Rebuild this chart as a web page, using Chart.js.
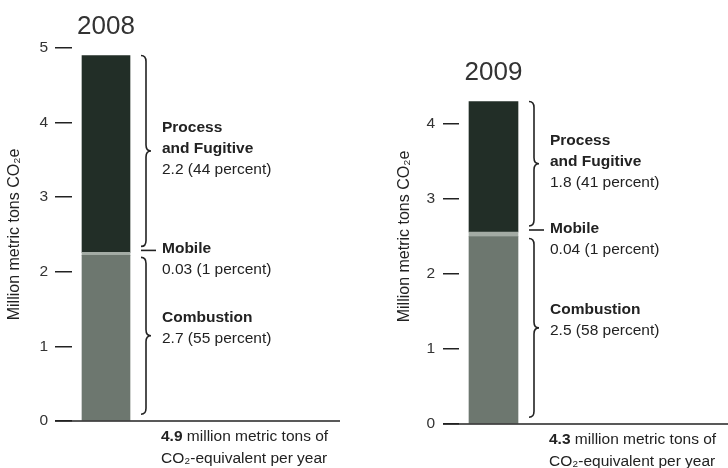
<!DOCTYPE html>
<html>
<head>
<meta charset="utf-8">
<script src="https://cdn.jsdelivr.net/npm/chart.js@4.4.1/dist/chart.umd.min.js"></script>
<style>
  html, body { margin: 0; padding: 0; background: #fff; }
  #wrap { position: relative; width: 728px; height: 468px; }
  .panel { position: absolute; top: 0; width: 364px; height: 468px; }
</style>
</head>
<body>
<div id="wrap">
  <div class="panel" style="left:0"><canvas id="c2008" width="364" height="468"></canvas></div>
  <div class="panel" style="left:364px"><canvas id="c2009" width="364" height="468"></canvas></div>
</div>
<script>
// values (million metric tons CO2e)
const years = ['2008', '2009'];
const combustion = [2.22, 2.50];
const mobile = [0.04, 0.06];
const processFugitive = [2.64, 1.74];
const yTicks = [[0, 1, 2, 3, 4, 5], [0, 1, 2, 3, 4]];

// annotation texts
const processText = ['2.2 (44 percent)', '1.8 (41 percent)'];
const mobileText = ['0.03 (1 percent)', '0.04 (1 percent)'];
const combustionText = ['2.7 (55 percent)', '2.5 (58 percent)'];
const totals = ['4.9', '4.3'];

const FONT = '"Liberation Sans", Arial, Helvetica, sans-serif';
const INK = '#222';

// per panel layout
const panels = [
  { id: 'c2008', pad: { left: 5, right: 224, top: 48, bottom: 47 }, axisW: 67, tickLen: 17, tickPad: 7, barW: 48, lineFrom: 55, lineTo: 340 },
  { id: 'c2009', pad: { left: 31, right: 200, top: 49, bottom: 44 }, axisW: 64, tickLen: 16, tickPad: 8, barW: 49, lineFrom: 79, lineTo: 364 }
];

function drawBrace(ctx, x, y1, y2, w) {
  const ym = (y1 + y2) / 2;
  const r = 6;
  const xm = x + w / 2;
  ctx.beginPath();
  ctx.moveTo(x, y1);
  ctx.quadraticCurveTo(xm, y1, xm, y1 + r);
  ctx.lineTo(xm, ym - r);
  ctx.quadraticCurveTo(xm, ym, x + w, ym);
  ctx.quadraticCurveTo(xm, ym, xm, ym + r);
  ctx.lineTo(xm, y2 - r);
  ctx.quadraticCurveTo(xm, y2, x, y2);
  ctx.stroke();
}

function makeAnnotations(i, cfg) {
  return {
    id: 'annotations' + i,
    afterDatasetsDraw(chart) {
      const ctx = chart.ctx;
      const y = chart.scales.y;
      const comb = chart.getDatasetMeta(0).data[0];
      const proc = chart.getDatasetMeta(2).data[0];
      const zero = y.getPixelForValue(0);
      const barRight = comb.x + comb.width / 2;
      const bx = barRight + 11;
      const tx = bx + 21;
      const lh = 21;

      ctx.save();
      // baseline
      ctx.strokeStyle = INK;
      ctx.lineWidth = 1.5;
      ctx.beginPath();
      ctx.moveTo(cfg.lineFrom, zero);
      ctx.lineTo(cfg.lineTo, zero);
      ctx.stroke();

      // braces
      ctx.lineWidth = 1.6;
      const pTop = proc.y, pBot = proc.base - 6;
      drawBrace(ctx, bx, pTop, pBot, 10);
      const my = proc.base - 2;
      ctx.beginPath();
      ctx.moveTo(bx, my);
      ctx.lineTo(bx + 15, my);
      ctx.stroke();
      const cTop = comb.y + 2, cBot = comb.base - 6;
      drawBrace(ctx, bx, cTop, cBot, 10);

      // year title
      ctx.fillStyle = '#333';
      ctx.textAlign = 'center';
      ctx.textBaseline = 'middle';
      ctx.font = '26px ' + FONT;
      ctx.fillText(years[i], comb.x, proc.y - 29);

      // labels
      ctx.textAlign = 'left';
      ctx.fillStyle = INK;
      const bold = 'bold 15.5px ' + FONT;
      const reg = '15.5px ' + FONT;
      const pc = (pTop + pBot) / 2 - 2;
      ctx.font = bold;
      ctx.fillText('Process', tx, pc - lh);
      ctx.fillText('and Fugitive', tx, pc);
      ctx.font = reg;
      ctx.fillText(processText[i], tx, pc + lh);

      ctx.font = bold;
      ctx.fillText('Mobile', tx, my - 1.5);
      ctx.font = reg;
      ctx.fillText(mobileText[i], tx, my - 1.5 + lh);

      const cc = (cTop + cBot) / 2 - 8;
      ctx.font = bold;
      ctx.fillText('Combustion', tx, cc - lh / 2);
      ctx.font = reg;
      ctx.fillText(combustionText[i], tx, cc + lh / 2);

      // total
      const ty = zero + 16;
      ctx.font = bold;
      ctx.fillText(totals[i], tx - 1, ty);
      const w = ctx.measureText(totals[i]).width;
      ctx.font = reg;
      ctx.fillText(' million metric tons of', tx - 1 + w, ty);
      ctx.fillText('CO\u2082-equivalent per year', tx - 1, ty + 22);
      ctx.restore();
    }
  };
}

panels.forEach((cfg, i) => {
  const ticks = yTicks[i];
  new Chart(document.getElementById(cfg.id), {
    type: 'bar',
    data: {
      labels: [years[i]],
      datasets: [
        { label: 'Combustion', data: [combustion[i]], backgroundColor: '#6d776f' },
        { label: 'Mobile', data: [mobile[i]], backgroundColor: '#a3aba4' },
        { label: 'Process and Fugitive', data: [processFugitive[i]], backgroundColor: '#222e27' }
      ]
    },
    options: {
      responsive: false,
      animation: false,
      devicePixelRatio: 1,
      layout: { padding: cfg.pad },
      datasets: { bar: { barThickness: cfg.barW } },
      plugins: { legend: { display: false }, tooltip: { enabled: false } },
      scales: {
        x: { stacked: true, display: false },
        y: {
          stacked: true,
          min: 0,
          max: 5,
          afterBuildTicks(scale) {
            scale.ticks = ticks.map(v => ({ value: v }));
          },
          afterFit(scale) { scale.width = cfg.axisW; },
          border: { display: false },
          grid: {
            drawOnChartArea: false,
            drawTicks: true,
            tickLength: cfg.tickLen,
            tickColor: INK,
            lineWidth: 1.5
          },
          ticks: {
            padding: cfg.tickPad,
            color: '#333',
            font: { family: FONT, size: 15.5 }
          },
          title: {
            display: true,
            text: 'Million metric tons CO\u2082e',
            color: INK,
            padding: 0,
            font: { family: FONT, size: 16 }
          }
        }
      }
    },
    plugins: [makeAnnotations(i, cfg)]
  });
});
</script>
</body>
</html>
